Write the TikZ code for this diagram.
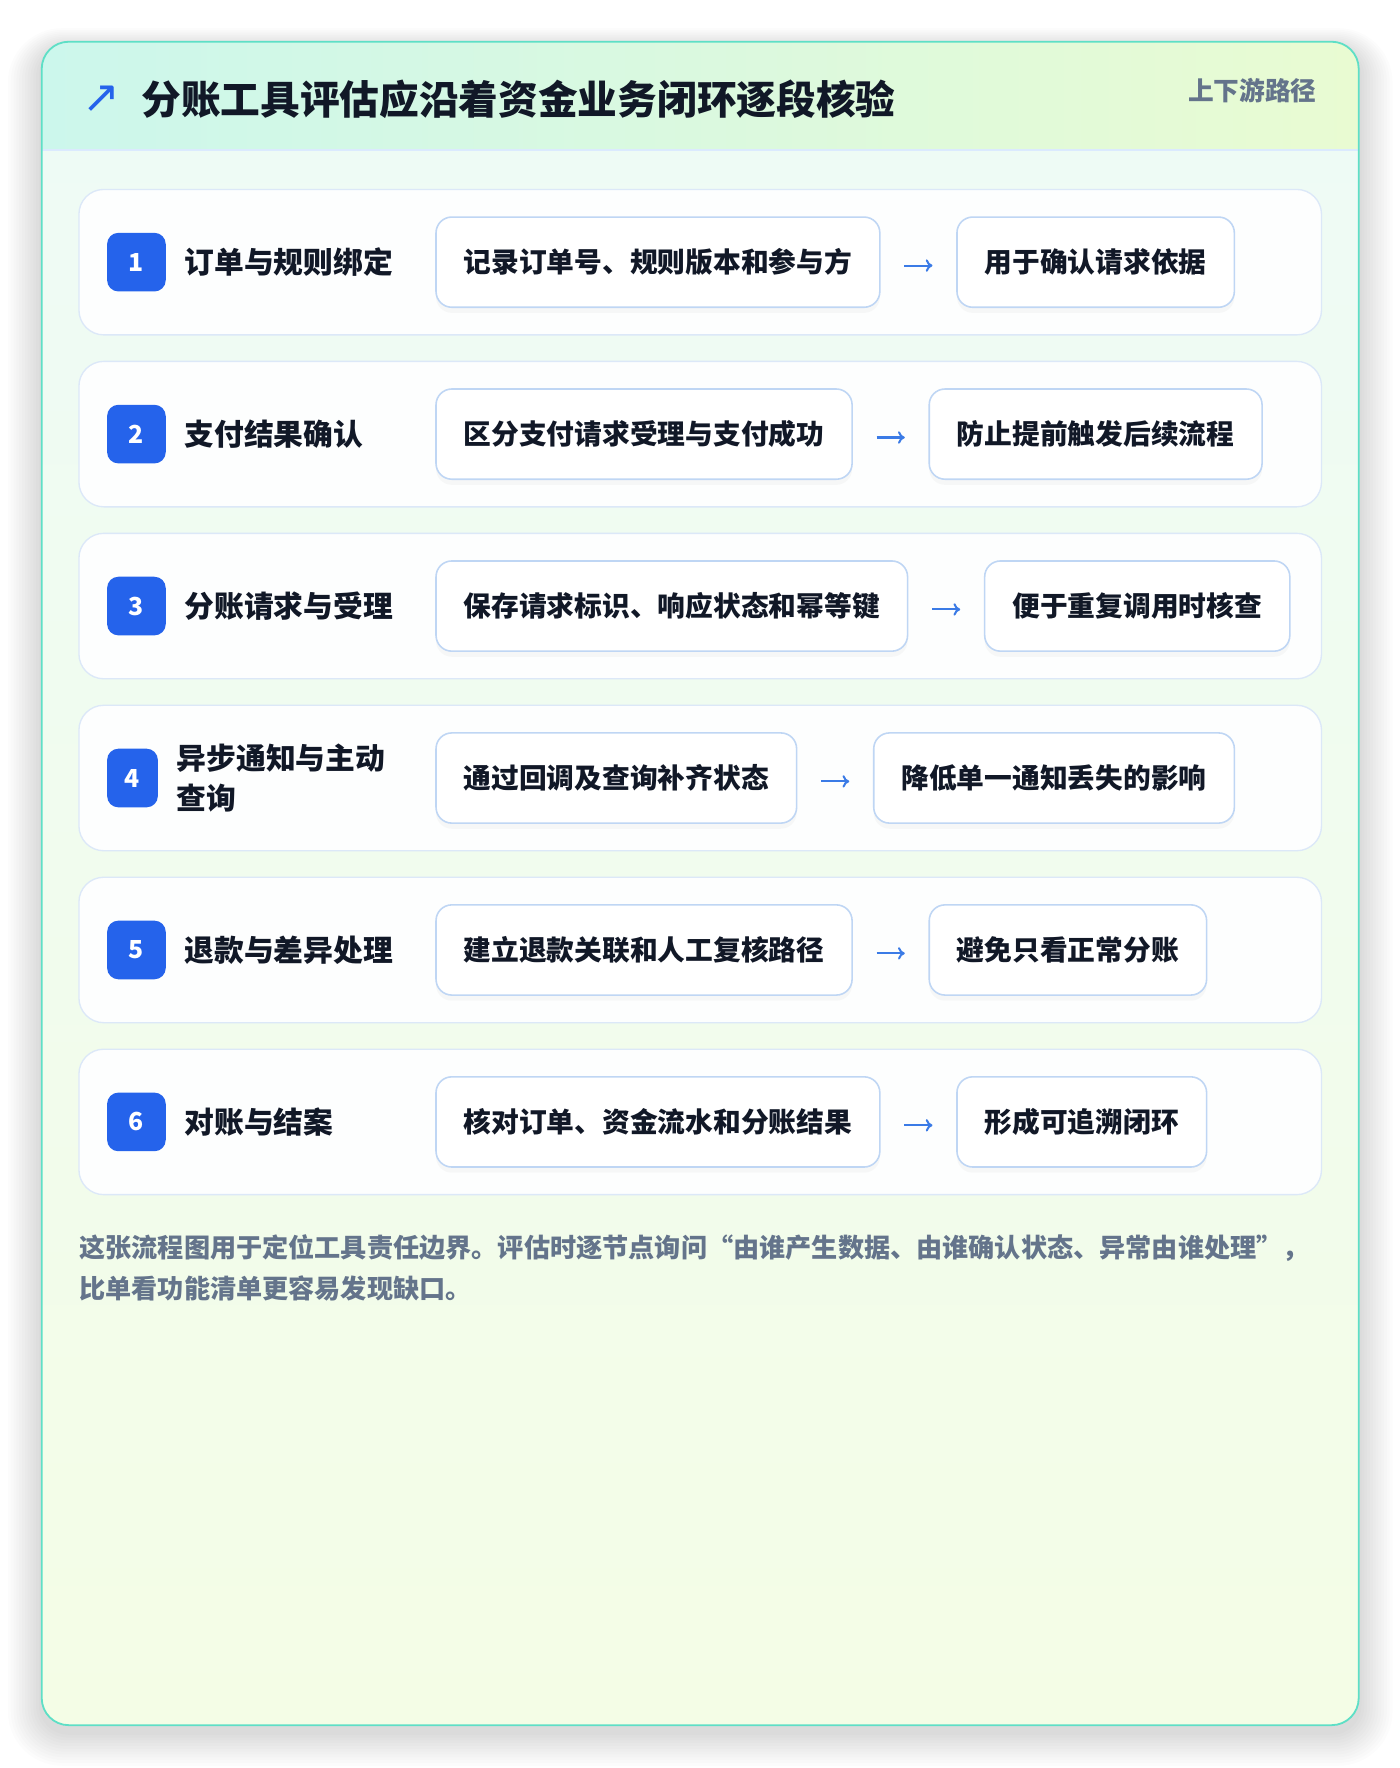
\documentclass[tikz,border=0pt]{standalone}
\usepackage{fontspec}
\setmainfont{Noto Sans CJK SC}
\newfontfamily\symfont{DejaVu Sans}
\usetikzlibrary{
  positioning,
  shadows,
  arrows.meta
}

\definecolor{cardline}{HTML}{5EDFC6}
\definecolor{headL}{HTML}{CCF7EC}
\definecolor{headR}{HTML}{E9FBD2}
\definecolor{bodytop}{HTML}{EEFBF6}
\definecolor{bodybot}{HTML}{F4FDE6}
\definecolor{headrule}{HTML}{DBEAFE}
\definecolor{rowfill}{HTML}{FDFEFE}
\definecolor{rowline}{HTML}{DCE8F8}
\definecolor{boxline}{HTML}{BFD6F4}
\definecolor{badgeblue}{HTML}{2563EB}
\definecolor{arrowblue}{HTML}{3B7BE6}
\definecolor{ink}{HTML}{111827}
\definecolor{muted}{HTML}{64748B}

\tikzset{
  rowbox/.style={draw=rowline, fill=rowfill, line width=0.6pt, rounded corners=11pt,
    minimum width=551pt, minimum height=64.5pt},
  badge/.style={fill=badgeblue, text=white, rounded corners=5pt, minimum width=26pt,
    minimum height=26pt, inner sep=0pt, font=\bfseries\fontsize{11}{11}\selectfont},
  steplabel/.style={text=ink, inner sep=0pt, anchor=west, align=left,
    font=\bfseries\fontsize{13.2}{17.5}\selectfont},
  infobox/.style={draw=boxline, fill=white, line width=0.7pt, rounded corners=7pt,
    minimum height=40pt, inner xsep=12.3pt, text=ink,
    font=\bfseries\fontsize{12.3}{14}\selectfont,
    drop shadow={shadow xshift=0pt, shadow yshift=-2.5pt, opacity=0.05}},
  flowarrow/.style={draw=arrowblue, line width=0.9pt, -{To[length=3pt,width=5.5pt]},
    shorten <=10.5pt, shorten >=10.5pt}
}

\begin{document}
\begin{tikzpicture}[x=0.5pt, y=-0.5pt]
  \def\Xl{37};
  \def\Xr{1205};
  \def\Yt{37};
  \def\Yb{1530};
  \def\Yh{133};
  \useasboundingbox[fill=white] (0,0) rectangle (1241,1568);

  % card shadow
  \foreach \s [evaluate=\s as \r using 12+\s] in {1,...,12}
    \fill[black, opacity=0.011, rounded corners=\r pt]
      (\Xl - 2.5*\s, \Yt - 1.5*\s + 6) rectangle (\Xr + 2.5*\s, \Yb + 2.5*\s + 6);

  % card body and header
  \shade[top color=bodytop, bottom color=bodybot, rounded corners=12pt]
    (\Xl, \Yt) rectangle (\Xr, \Yb);
  \begin{scope}
    \clip[rounded corners=12pt] (\Xl, \Yt) rectangle (\Xr, \Yb);
    \shade[left color=headL, right color=headR] (\Xl, \Yt) rectangle (\Xr, \Yh);
  \end{scope}
  \draw[headrule, line width=1pt] (\Xl, \Yh) -- (\Xr, \Yh);
  \draw[cardline, line width=0.8pt, rounded corners=12pt] (\Xl, \Yt) rectangle (\Xr, \Yb);

  \node[text=badgeblue, inner sep=0pt, font=\symfont\fontsize{20}{20}\selectfont]
    (icon) at (90, 88) {↗};
  \node[anchor=west, inner sep=0pt, text=ink, font=\bfseries\fontsize{17.6}{20}\selectfont]
    (title) at (125, 88) {分账工具评估应沿着资金业务闭环逐段核验};
  \node[anchor=east, inner sep=0pt, text=muted, font=\bfseries\fontsize{11.4}{13}\selectfont]
    (tag) at (1168, 80) {上下游路径};

  % step 1
  \node[rowbox] (row1) at (621, 232.5) {};
  \node[badge] (b1) at (121, 232.5) {1};
  \node[steplabel, right=8pt of b1] (s1) {订单与规则绑定};
  \node[infobox, anchor=west] (a1) at (386, 232.5) {记录订单号、规则版本和参与方};
  \node[infobox, right=33.5pt of a1] (c1) {用于确认请求依据};
  \draw[flowarrow] ([yshift=-1.5pt]a1.east) -- ([yshift=-1.5pt]c1.west);

  % step 2
  \node[rowbox] (row2) at (621, 385) {};
  \node[badge] (b2) at (121, 385) {2};
  \node[steplabel, right=8pt of b2] (s2) {支付结果确认};
  \node[infobox, anchor=west] (a2) at (386, 385) {区分支付请求受理与支付成功};
  \node[infobox, right=33.5pt of a2] (c2) {防止提前触发后续流程};
  \draw[flowarrow] ([yshift=-1.5pt]a2.east) -- ([yshift=-1.5pt]c2.west);

  % step 3
  \node[rowbox] (row3) at (621, 537.5) {};
  \node[badge] (b3) at (121, 537.5) {3};
  \node[steplabel, right=8pt of b3] (s3) {分账请求与受理};
  \node[infobox, anchor=west] (a3) at (386, 537.5) {保存请求标识、响应状态和幂等键};
  \node[infobox, right=33.5pt of a3] (c3) {便于重复调用时核查};
  \draw[flowarrow] ([yshift=-1.5pt]a3.east) -- ([yshift=-1.5pt]c3.west);

  % step 4 (label wraps, badge shrinks)
  \node[rowbox] (row4) at (621, 690) {};
  \node[badge, minimum width=22.5pt] (b4) at (117.5, 690) {4};
  \node[steplabel, right=8pt of b4] (s4) {异步通知与主动\\查询};
  \node[infobox, anchor=west] (a4) at (386, 690) {通过回调及查询补齐状态};
  \node[infobox, right=33.5pt of a4] (c4) {降低单一通知丢失的影响};
  \draw[flowarrow] ([yshift=-1.5pt]a4.east) -- ([yshift=-1.5pt]c4.west);

  % step 5
  \node[rowbox] (row5) at (621, 842.5) {};
  \node[badge] (b5) at (121, 842.5) {5};
  \node[steplabel, right=8pt of b5] (s5) {退款与差异处理};
  \node[infobox, anchor=west] (a5) at (386, 842.5) {建立退款关联和人工复核路径};
  \node[infobox, right=33.5pt of a5] (c5) {避免只看正常分账};
  \draw[flowarrow] ([yshift=-1.5pt]a5.east) -- ([yshift=-1.5pt]c5.west);

  % step 6
  \node[rowbox] (row6) at (621, 995) {};
  \node[badge] (b6) at (121, 995) {6};
  \node[steplabel, right=8pt of b6] (s6) {对账与结案};
  \node[infobox, anchor=west] (a6) at (386, 995) {核对订单、资金流水和分账结果};
  \node[infobox, right=33.5pt of a6] (c6) {形成可追溯闭环};
  \draw[flowarrow] ([yshift=-1.5pt]a6.east) -- ([yshift=-1.5pt]c6.west);

  \node[anchor=west, inner sep=0pt, align=left, text=muted,
    font=\bfseries\fontsize{11.6}{18.5}\selectfont] (note) at (70, 1124.5)
    {这张流程图用于定位工具责任边界。评估时逐节点询问“由谁产生数据、由谁确认状态、异常由谁处理”，\\
     比单看功能清单更容易发现缺口。};
\end{tikzpicture}
\end{document}
